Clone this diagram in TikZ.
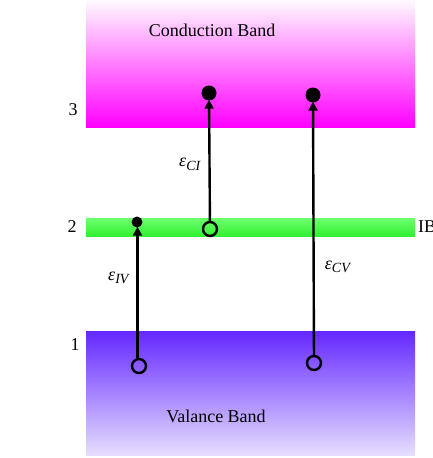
\documentclass[tikz,border=0pt]{standalone}
\usepackage{fontspec}
\setmainfont{Liberation Serif}
\usetikzlibrary{arrows.meta}
\definecolor{cbtop}{RGB}{255,250,255}
\definecolor{cbbot}{RGB}{255,0,255}
\definecolor{vbtop}{RGB}{100,40,255}
\definecolor{vbbot}{RGB}{230,222,255}
\definecolor{ibtop}{RGB}{110,255,110}
\definecolor{ibbot}{RGB}{50,240,50}
\tikzset{
  lbl/.style={font=\fontsize{18}{21}\selectfont, inner sep=0pt},
  fulldot/.style={circle, fill=black, minimum size=15pt, inner sep=0pt},
  smalldot/.style={circle, fill=black, minimum size=11pt, inner sep=0pt},
  hole/.style={circle, draw=black, line width=2.4pt, fill=none, minimum size=14pt, inner sep=0pt},
  trans/.style={line width=2.4pt, -{Triangle[length=9pt,width=9pt]}, shorten >=-1pt},
}
\newcommand{\eps}[1]{\textit{ε}\raisebox{-0.45ex}{\fontsize{14}{16}\selectfont\textit{#1}}}
\begin{document}
\begin{tikzpicture}[x=1pt,y=-1pt]
\useasboundingbox (0,0) rectangle (433,458);
% bands
\shade[top color=cbtop, bottom color=cbbot] (86,0) rectangle (415,127);
\shade[top color=ibtop, bottom color=ibbot] (86,218) rectangle (415,236);
\shade[top color=vbtop, bottom color=vbbot] (86,331) rectangle (415,455);
% band labels
\node[lbl] (cb) at (212,30) {Conduction Band};
\node[lbl] (vb) at (216,416) {Valance Band};
\node[lbl, anchor=west] (ib) at (418,227) {IB};
\node[lbl] (n3) at (73,110) {3};
\node[lbl] (n2) at (72,227) {2};
\node[lbl] (n1) at (75,345) {1};
% electrons and holes
\node[fulldot] (c1) at (209,93) {};
\node[fulldot] (c2) at (313,95) {};
\node[smalldot] (i1) at (137,222) {};
\node[hole] (h2) at (210,229) {};
\node[hole] (v1) at (139,366) {};
\node[hole] (v2) at (314,363) {};
% transitions
\draw[trans] (v1.north) ++(-1.5,0) coordinate (v1s) -- (v1s |- i1.south);
\draw[trans] (h2) -- (c1);
\draw[trans] (v2) -- (c2);
% transition labels
\node[lbl] (eci) at (190,164) {\eps{CI}};
\node[lbl] (eiv) at (119,278) {\eps{IV}};
\node[lbl] (ecv) at (338,267) {\eps{CV}};
\end{tikzpicture}
\end{document}
